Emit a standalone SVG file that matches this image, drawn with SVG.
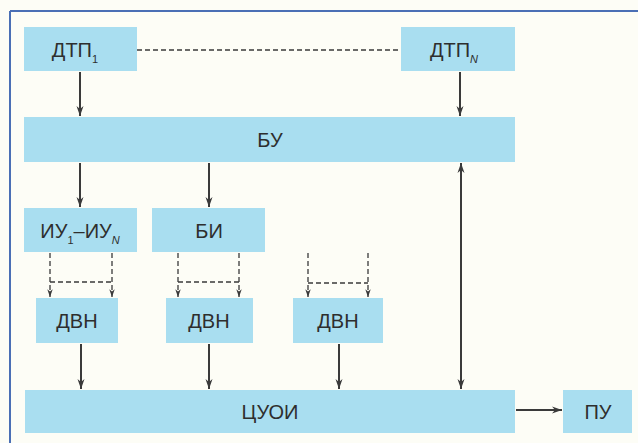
<svg xmlns="http://www.w3.org/2000/svg" width="638" height="443" viewBox="0 0 638 443">
<style>
.box{fill:#a9def0}
.t{font-family:"Liberation Sans",Arial,sans-serif;font-size:20px;fill:#2e2e2e;text-anchor:middle}
.sub{font-size:11px}
.ln{stroke:#3a3a3a;stroke-width:2;fill:none}
.ds{stroke:#3a3a3a;stroke-width:1.3;fill:none;stroke-dasharray:5 3}
</style>
<defs>
<marker id="ah" viewBox="0 0 10 10" refX="10" refY="5" markerWidth="5" markerHeight="5" orient="auto-start-reverse" markerUnits="strokeWidth">
<path d="M0,1.5 L10,5 L0,8.5 L3,5 z" fill="#3a3a3a"/>
</marker>
<marker id="ahs" viewBox="0 0 10 10" refX="10" refY="5" markerWidth="6" markerHeight="6" orient="auto" markerUnits="strokeWidth">
<path d="M0,1.5 L10,5 L0,8.5 L3,5 z" fill="#3a3a3a"/>
</marker>
</defs>
<rect width="638" height="443" fill="#fdfdf6"/>
<g id="frame">
<line x1="10" y1="11" x2="638" y2="11" stroke="#4a6fb5" stroke-width="2"/>
<line x1="10" y1="11" x2="10" y2="443" stroke="#4a6fb5" stroke-width="2"/>
</g>
<g id="dtp1"><rect class="box" x="24" y="27" width="113" height="44"/><text class="t" x="75" y="57">ДТП<tspan class="sub" dy="6">1</tspan></text></g>
<g id="dtpn"><rect class="box" x="401" y="27" width="114" height="44"/><text class="t" x="454" y="57">ДТП<tspan class="sub" dy="6" font-style="italic">N</tspan></text></g>
<g id="bu"><rect class="box" x="24" y="117" width="491" height="45"/><text class="t" x="270" y="147">БУ</text></g>
<g id="iu"><rect class="box" x="24" y="208" width="113" height="44"/><text class="t" x="80" y="238">ИУ<tspan class="sub" dy="6">1</tspan><tspan dy="-6">–ИУ</tspan><tspan class="sub" dy="6" font-style="italic">N</tspan></text></g>
<g id="bi"><rect class="box" x="152" y="208" width="113" height="44"/><text class="t" x="209" y="238">БИ</text></g>
<g id="dvn1"><rect class="box" x="36" y="298" width="82" height="45"/><text class="t" x="77" y="328">ДВН</text></g>
<g id="dvn2"><rect class="box" x="166" y="298" width="87" height="45"/><text class="t" x="209" y="328">ДВН</text></g>
<g id="dvn3"><rect class="box" x="293" y="298" width="90" height="45"/><text class="t" x="338" y="328">ДВН</text></g>
<g id="tsuoi"><rect class="box" x="25" y="390" width="490" height="43"/><text class="t" x="270" y="419">ЦУОИ</text></g>
<g id="pu"><rect class="box" x="563" y="390" width="69" height="43"/><text class="t" x="598" y="419">ПУ</text></g>
<g id="connectors">
<line class="ds" x1="137" y1="50" x2="401" y2="50"/>
<line class="ln" x1="80" y1="72" x2="80" y2="116" marker-end="url(#ah)"/>
<line class="ln" x1="460" y1="72" x2="460" y2="116" marker-end="url(#ah)"/>
<line class="ln" x1="80" y1="163" x2="80" y2="207" marker-end="url(#ah)"/>
<line class="ln" x1="209" y1="163" x2="209" y2="207" marker-end="url(#ah)"/>
<line class="ln" x1="461" y1="163" x2="461" y2="389" marker-start="url(#ah)" marker-end="url(#ah)"/>
<line class="ln" x1="81" y1="344" x2="81" y2="389" marker-end="url(#ah)"/>
<line class="ln" x1="209" y1="344" x2="209" y2="389" marker-end="url(#ah)"/>
<line class="ln" x1="339" y1="344" x2="339" y2="389" marker-end="url(#ah)"/>
<line class="ln" x1="516" y1="410" x2="562" y2="410" marker-end="url(#ah)"/>
<line class="ds" x1="50" y1="253" x2="50" y2="297" marker-end="url(#ahs)"/>
<line class="ds" x1="112" y1="253" x2="112" y2="297" marker-end="url(#ahs)"/>
<line class="ds" x1="50" y1="282" x2="112" y2="282"/>
<line class="ds" x1="178" y1="253" x2="178" y2="297" marker-end="url(#ahs)"/>
<line class="ds" x1="239" y1="253" x2="239" y2="297" marker-end="url(#ahs)"/>
<line class="ds" x1="178" y1="282" x2="239" y2="282"/>
<line class="ds" x1="308" y1="253" x2="308" y2="297" marker-end="url(#ahs)"/>
<line class="ds" x1="368" y1="253" x2="368" y2="297" marker-end="url(#ahs)"/>
<line class="ds" x1="308" y1="283" x2="368" y2="283"/>
</g>
</svg>
